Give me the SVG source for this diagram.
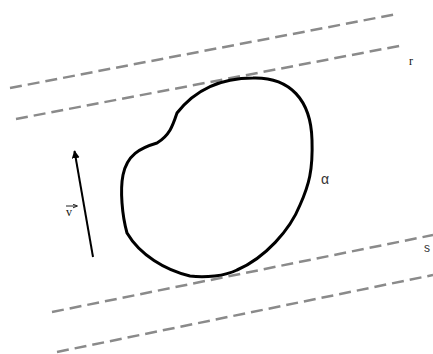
<svg xmlns="http://www.w3.org/2000/svg" width="433" height="354" viewBox="0 0 433 354">
<style>
.dash{fill:none;stroke:#8a8a8a;stroke-width:2.5;stroke-dasharray:12 6}
.blob{fill:none;stroke:#000;stroke-width:3;stroke-linejoin:round}
.serif{font-family:"Liberation Serif","Times New Roman",serif;fill:#111}
.sans{font-family:"Liberation Sans",Arial,sans-serif;fill:#333}
</style>
<defs>
<marker id="ah" viewBox="0 0 10 10" refX="9" refY="5" markerWidth="4" markerHeight="4" orient="auto" markerUnits="strokeWidth">
<path d="M0,0 L10,5 L0,10 Z" fill="#000"/>
</marker>
<marker id="ah2" viewBox="0 0 10 10" refX="9" refY="5" markerWidth="5" markerHeight="5" orient="auto" markerUnits="strokeWidth">
<path d="M0,1 L10,5 L0,9" fill="none" stroke="#222" stroke-width="2"/>
</marker>
</defs>
<g id="connectors">
<line class="dash" x1="10" y1="88" x2="397" y2="14"/>
<line class="dash" x1="16" y1="119" x2="404" y2="45"/>
<line class="dash" x1="52" y1="312" x2="433" y2="235"/>
<line class="dash" x1="57" y1="352" x2="433" y2="275"/>
<line x1="93" y1="257" x2="74.5" y2="151" stroke="#000" stroke-width="2" marker-end="url(#ah)"/>
</g>
<g id="region-alpha">
<path class="blob" d="M253 78 C290 77 311 100 312 140 C313 170 309 185 300 205 C290 230 265 258 237 270 C225 276 205 278 190 276 C165 270 140 255 127 233 C122 215 120 190 123 175 C127 155 140 148 157 143 C170 135 173 125 177 113 C195 90 220 78 253 78 Z"/>
<text class="sans" x="321" y="184" font-size="14">α</text>
</g>
<g id="line-r">
<text class="serif" x="409" y="65" font-size="12">r</text>
</g>
<g id="line-s">
<text class="sans" x="424" y="252" font-size="12">s</text>
</g>
<g id="vector-v">
<text class="serif" x="66" y="216" font-size="12">v</text>
<line x1="66" y1="206" x2="77" y2="206" stroke="#222" stroke-width="1" marker-end="url(#ah2)"/>
</g>
</svg>
